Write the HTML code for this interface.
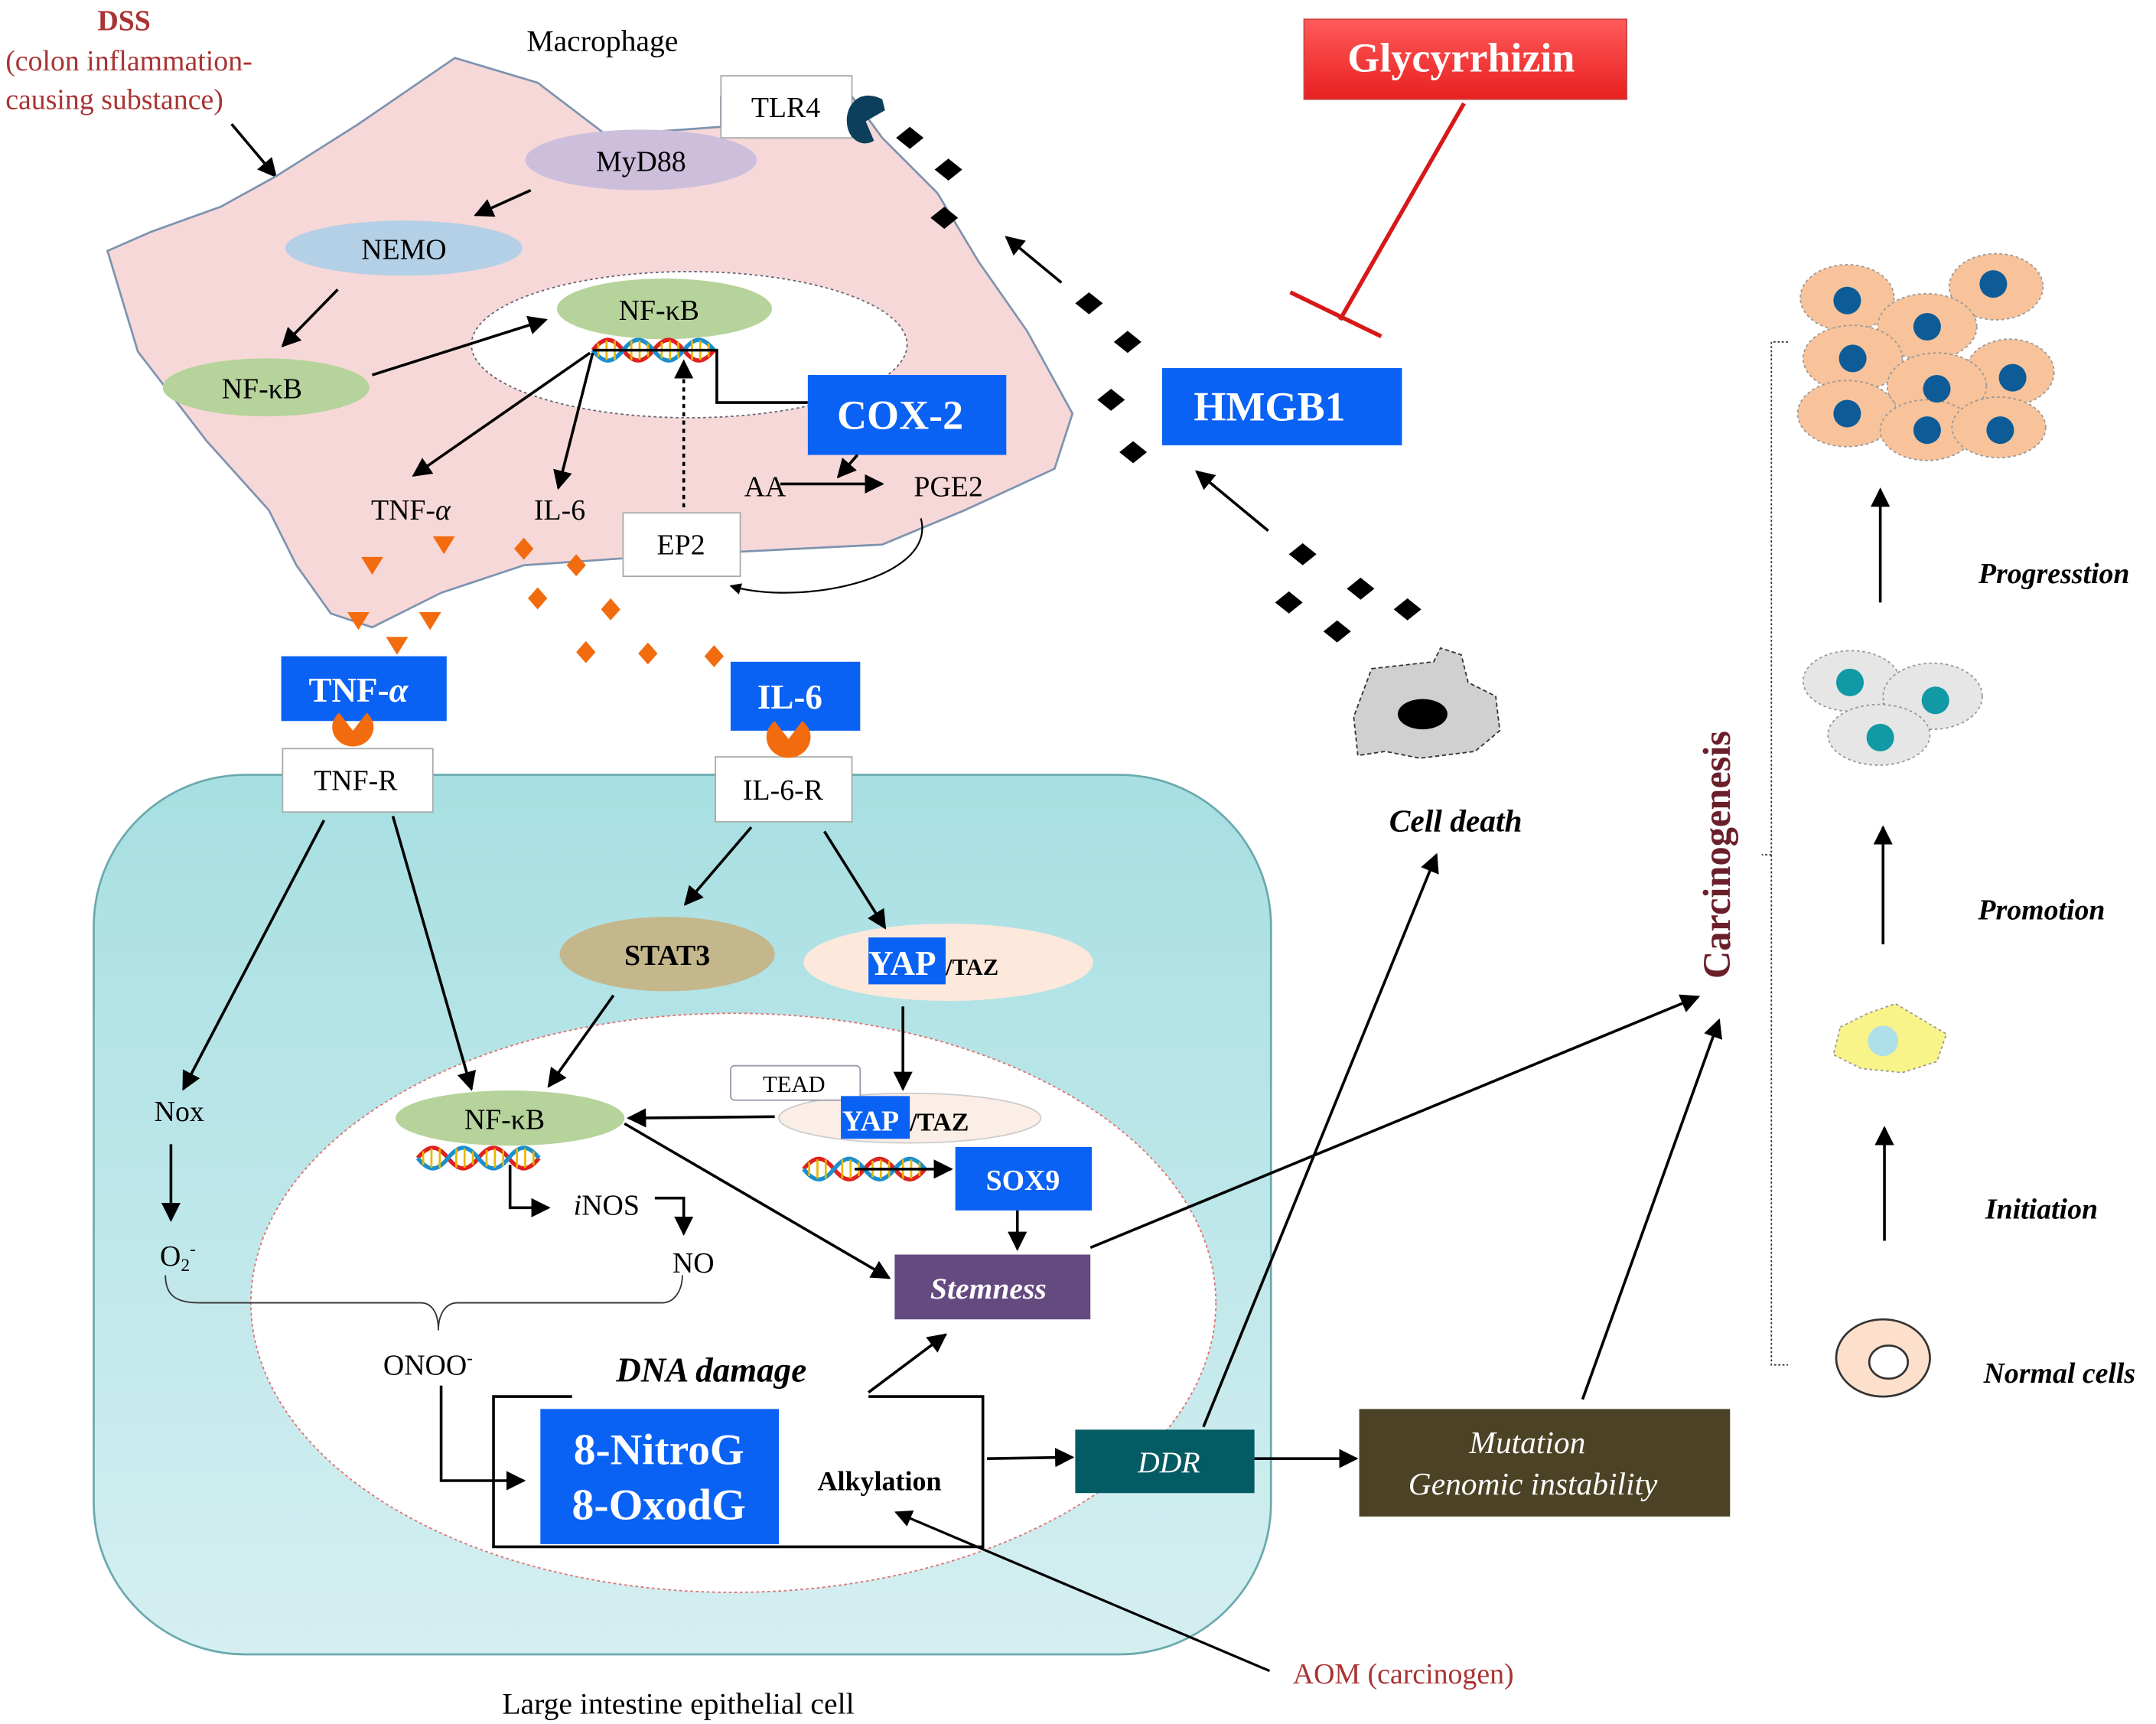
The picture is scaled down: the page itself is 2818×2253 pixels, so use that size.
<!DOCTYPE html>
<html><head><meta charset="utf-8"><style>html,body{margin:0;padding:0;background:#fff}svg{display:block}text{font-family:"Liberation Serif",serif}</style></head><body>
<svg width="2818" height="2253" viewBox="0 0 1564 1250.5" preserveAspectRatio="none" xmlns="http://www.w3.org/2000/svg">
<defs>
<marker id="a" viewBox="0 0 10 10" refX="9" refY="5" markerWidth="7" markerHeight="7" orient="auto-start-reverse"><path d="M0,0L10,5L0,10z" fill="#000"/></marker>
<linearGradient id="cg" x1="0" y1="0" x2="0" y2="1"><stop offset="0" stop-color="#a7dfe2"/><stop offset="1" stop-color="#d5eff1"/></linearGradient>
<linearGradient id="rg" x1="0" y1="0" x2="0" y2="1"><stop offset="0" stop-color="#ff5a5a"/><stop offset="1" stop-color="#e82020"/></linearGradient>
<g id="dna"><path d="M0,0 C8,-10 14,-10 22,0 S36,10 44,0 S58,-10 66,0 S80,10 88,0" fill="none" stroke="#e02020" stroke-width="3"/><path d="M0,0 C8,10 14,10 22,0 S36,-10 44,0 S58,10 66,0 S80,-10 88,0" fill="none" stroke="#1a8fd0" stroke-width="3"/><path d="M4,-5v10M10,-7v14M16,-7v14M28,-7v14M34,-7v14M40,-5v10M50,-6v12M56,-7v14M62,-6v12M72,-7v14M78,-7v14M84,-5v10" stroke="#e6b800" stroke-width="1.5"/></g>
</defs>
<text x="90" y="22" font-size="21" font-weight="bold" fill="#a33" text-anchor="middle">DSS</text>
<text x="4" y="51" font-size="21" fill="#a33">(colon   inflammation-</text>
<text x="4" y="79" font-size="21" fill="#a33">causing substance)</text>
<line x1="168" y1="90" x2="200" y2="128" stroke="#000" stroke-width="2" marker-end="url(#a)"/>
<text x="437" y="37" font-size="22" text-anchor="middle">Macrophage</text>
<path d="M78,182 L110,168 L160,150 L200,128 L260,90 L330,42 L390,60 L440,98 L523,92 L523,70 L618,70 L640,100 L680,140 L710,190 L745,240 L778,300 L765,340 L700,370 L640,395 L540,400 L452,405 L380,410 L320,430 L270,455 L240,445 L215,410 L195,370 L150,320 L100,255 Z" fill="#f7d8d8" stroke="#7d93b0" stroke-width="1.5"/>
<ellipse cx="500" cy="250" rx="158" ry="53" fill="#fff" stroke="#667" stroke-width="1" stroke-dasharray="2,2"/>
<rect x="523" y="55" width="95" height="45" fill="#fff" stroke="#aaa"/>
<text x="570" y="85" font-size="21" text-anchor="middle">TLR4</text>
<path d="M640,72 C620,62 610,82 616,96 C620,104 628,106 634,102 L628,88 L642,80 Z" fill="#0b3f5c"/>
<ellipse cx="465" cy="116" rx="84" ry="22" fill="#cdbfdc"/>
<text x="465" y="124" font-size="21" text-anchor="middle">MyD88</text>
<ellipse cx="293" cy="180" rx="86" ry="20" fill="#b3d0e6"/>
<text x="293" y="188" font-size="21" text-anchor="middle">NEMO</text>
<ellipse cx="193" cy="281" rx="75" ry="21" fill="#b6d39b"/>
<text x="190" y="289" font-size="21" text-anchor="middle">NF-κB</text>
<ellipse cx="482" cy="224" rx="78" ry="22" fill="#b6d39b"/>
<text x="478" y="232" font-size="21" text-anchor="middle">NF-κB</text>
<use href="#dna" x="430" y="254"/>
<path d="M430,254 H520 V292 H586" fill="none" stroke="#000" stroke-width="2"/>
<rect x="586" y="272" width="144" height="58" fill="#0a62f5"/>
<text x="653" y="311" font-size="30" font-weight="bold" fill="#fff" text-anchor="middle">COX-2</text>
<g stroke="#000" stroke-width="2" fill="none" marker-end="url(#a)">
<line x1="385" y1="138" x2="345" y2="156"/>
<line x1="245" y1="210" x2="205" y2="251"/>
<line x1="270" y1="272" x2="396" y2="232"/>
<line x1="428" y1="256" x2="300" y2="345"/>
<line x1="430" y1="256" x2="405" y2="354"/>
<line x1="622" y1="330" x2="608" y2="346"/>
<line x1="566" y1="351" x2="640" y2="351"/>
<line x1="496" y1="368" x2="496" y2="262" stroke-dasharray="3,3"/>
<path d="M668,376 C680,420 580,440 530,425" stroke-width="1.2"/>
</g>
<text x="298" y="377" font-size="21" text-anchor="middle">TNF-<tspan font-style="italic">α</tspan></text>
<text x="406" y="377" font-size="21" text-anchor="middle">IL-6</text>
<text x="555" y="360" font-size="21" text-anchor="middle">AA</text>
<text x="688" y="360" font-size="21" text-anchor="middle">PGE2</text>
<rect x="452" y="372" width="85" height="46" fill="#fff" stroke="#aaa"/>
<text x="494" y="402" font-size="21" text-anchor="middle">EP2</text>
<g fill="#f26b0f">
<path d="M262,404h16l-8,13z"/><path d="M314,389h16l-8,13z"/><path d="M252,444h16l-8,13z"/><path d="M304,444h16l-8,13z"/><path d="M280,462h16l-8,13z"/>
<path d="M380,390l7,8l-7,8l-7,-8z"/><path d="M418,402l7,8l-7,8l-7,-8z"/><path d="M390,426l7,8l-7,8l-7,-8z"/><path d="M443,434l7,8l-7,8l-7,-8z"/><path d="M425,465l7,8l-7,8l-7,-8z"/><path d="M470,466l7,8l-7,8l-7,-8z"/><path d="M518,468l7,8l-7,8l-7,-8z"/>
</g>
<rect x="68" y="562" width="854" height="638" rx="110" fill="url(#cg)" stroke="#6aa9ad" stroke-width="1.5"/>
<ellipse cx="532" cy="945" rx="350" ry="210" fill="#fff" stroke="#e07070" stroke-width="1" stroke-dasharray="2,2"/>
<rect x="204" y="476" width="120" height="47" fill="#0a62f5"/>
<text x="260" y="509" font-size="25" font-weight="bold" fill="#fff" text-anchor="middle">TNF-<tspan font-style="italic">α</tspan></text>
<rect x="530" y="480" width="94" height="50" fill="#0a62f5"/>
<text x="573" y="514" font-size="25" font-weight="bold" fill="#fff" text-anchor="middle">IL-6</text>
<rect x="205" y="543" width="109" height="46" fill="#fff" stroke="#aaa"/>
<text x="258" y="573" font-size="21" text-anchor="middle">TNF-R</text>
<rect x="519" y="549" width="99" height="47" fill="#fff" stroke="#aaa"/>
<text x="568" y="580" font-size="21" text-anchor="middle">IL-6-R</text>
<path d="M256,530 L246,517 A15,14 0 1 0 266,517 Z" fill="#f26b0f"/>
<path d="M572,536 L562,523 A16,15 0 1 0 582,523 Z" fill="#f26b0f"/>
<ellipse cx="484" cy="692" rx="78" ry="27" fill="#c4b78c"/>
<text x="484" y="700" font-size="21" font-weight="bold" text-anchor="middle">STAT3</text>
<ellipse cx="688" cy="698" rx="105" ry="28" fill="#fde8dc"/>
<rect x="630" y="680" width="56" height="34" fill="#0a62f5"/>
<text x="630" y="707" font-size="25" font-weight="bold" fill="#fff">YAP</text>
<text x="686" y="707" font-size="17" font-weight="bold">/TAZ</text>
<ellipse cx="370" cy="811" rx="83" ry="20" fill="#b6d39b"/>
<text x="366" y="819" font-size="21" text-anchor="middle">NF-κB</text>
<use href="#dna" x="303" y="840"/>
<ellipse cx="660" cy="811" rx="95" ry="18" fill="#fbeee6" stroke="#ccc"/>
<rect x="530" y="773" width="94" height="25" rx="3" fill="#fff" stroke="#99a"/>
<text x="576" y="792" font-size="17" text-anchor="middle">TEAD</text>
<rect x="610" y="795" width="50" height="31" fill="#0a62f5"/>
<text x="611" y="820" font-size="21" font-weight="bold" fill="#fff">YAP</text>
<text x="660" y="820" font-size="19" font-weight="bold">/TAZ</text>
<use href="#dna" x="583" y="848"/>
<rect x="693" y="832" width="99" height="46" fill="#0a62f5"/>
<text x="742" y="863" font-size="21" font-weight="bold" fill="#fff" text-anchor="middle">SOX9</text>
<text x="130" y="813" font-size="21" text-anchor="middle">Nox</text>
<text x="116" y="918" font-size="21">O<tspan font-size="13" dy="4">2</tspan><tspan font-size="13" dy="-12">-</tspan></text>
<text x="440" y="881" font-size="21" text-anchor="middle"><tspan font-style="italic">i</tspan>NOS</text>
<text x="503" y="923" font-size="21" text-anchor="middle">NO</text>
<text x="278" y="997" font-size="21">ONOO<tspan font-size="13" dy="-8">-</tspan></text>
<path d="M120,925 C120,940 128,945 145,945 H305 C315,945 318,955 318,965 C318,955 322,945 332,945 H480 C490,945 495,935 495,925" fill="none" stroke="#333" stroke-width="1"/>
<rect x="649" y="910" width="142" height="47" fill="#654a80"/>
<text x="717" y="942" font-size="22" font-style="italic" font-weight="bold" fill="#fff" text-anchor="middle">Stemness</text>
<text x="516" y="1002" font-size="25" font-style="italic" font-weight="bold" text-anchor="middle">DNA damage</text>
<path d="M415,1013 H358 V1122 H713 V1013 H630" fill="none" stroke="#000" stroke-width="2"/>
<rect x="392" y="1022" width="173" height="98" fill="#0a62f5"/>
<text x="478" y="1062" font-size="32" font-weight="bold" fill="#fff" text-anchor="middle">8-NitroG</text>
<text x="478" y="1102" font-size="32" font-weight="bold" fill="#fff" text-anchor="middle">8-OxodG</text>
<text x="638" y="1081" font-size="20" font-weight="bold" text-anchor="middle">Alkylation</text>
<rect x="780" y="1037" width="130" height="46" fill="#035c63"/>
<text x="848" y="1068" font-size="22" font-style="italic" fill="#fff" text-anchor="middle">DDR</text>
<rect x="986" y="1022" width="269" height="78" fill="#4c4225"/>
<text x="1108" y="1054" font-size="23" font-style="italic" fill="#fff" text-anchor="middle">Mutation</text>
<text x="1112" y="1084" font-size="23" font-style="italic" fill="#fff" text-anchor="middle">Genomic instability</text>
<text x="492" y="1243" font-size="22" text-anchor="middle">Large intestine epithelial cell</text>
<text x="1018" y="1221" font-size="21" fill="#a33" text-anchor="middle">AOM (carcinogen)</text>
<g stroke="#000" stroke-width="2" fill="none" marker-end="url(#a)">
<line x1="235" y1="595" x2="133" y2="790"/>
<line x1="285" y1="592" x2="342" y2="790"/>
<line x1="545" y1="600" x2="497" y2="656"/>
<line x1="598" y1="603" x2="642" y2="673"/>
<line x1="445" y1="722" x2="398" y2="788"/>
<line x1="655" y1="730" x2="655" y2="790"/>
<line x1="562" y1="810" x2="456" y2="811"/>
<line x1="453" y1="815" x2="645" y2="927"/>
<line x1="738" y1="878" x2="738" y2="906"/>
<line x1="124" y1="830" x2="124" y2="885"/>
<path d="M370,845 V876 H398"/>
<path d="M475,869 H496 V895"/>
<path d="M320,1005 V1074 H380"/>
<line x1="620" y1="848" x2="690" y2="848"/>
<line x1="630" y1="1010" x2="686" y2="968"/>
<line x1="716" y1="1058" x2="778" y2="1057"/>
<line x1="910" y1="1058" x2="984" y2="1058"/>
<line x1="921" y1="1212" x2="650" y2="1097" stroke-width="1.8"/>
<line x1="873" y1="1035" x2="1042" y2="620"/>
<line x1="791" y1="905" x2="1232" y2="723"/>
<line x1="1148" y1="1015" x2="1247" y2="740"/>
<line x1="770" y1="205" x2="730" y2="172"/>
<line x1="920" y1="385" x2="868" y2="342"/>
<line x1="1364" y1="437" x2="1364" y2="355"/>
<line x1="1366" y1="685" x2="1366" y2="600"/>
<line x1="1367" y1="900" x2="1367" y2="818"/>
</g>
<rect x="946" y="14" width="234" height="58" fill="url(#rg)" stroke="#c44"/>
<text x="1060" y="52" font-size="30" font-weight="bold" fill="#fff" text-anchor="middle">Glycyrrhizin</text>
<line x1="1062" y1="75" x2="972" y2="232" stroke="#d81818" stroke-width="3"/>
<line x1="936" y1="212" x2="1002" y2="244" stroke="#d81818" stroke-width="3"/>
<rect x="843" y="267" width="174" height="56" fill="#0a62f5"/>
<text x="921" y="305" font-size="30" font-weight="bold" fill="#fff" text-anchor="middle">HMGB1</text>
<g fill="#000">
<path d="M660,92l10,8l-10,8l-10,-8z"/><path d="M688,115l10,8l-10,8l-10,-8z"/><path d="M685,150l10,8l-10,8l-10,-8z"/><path d="M790,212l10,8l-10,8l-10,-8z"/><path d="M818,240l10,8l-10,8l-10,-8z"/><path d="M806,282l10,8l-10,8l-10,-8z"/><path d="M822,320l10,8l-10,8l-10,-8z"/><path d="M945,394l10,8l-10,8l-10,-8z"/><path d="M987,419l10,8l-10,8l-10,-8z"/><path d="M935,429l10,8l-10,8l-10,-8z"/><path d="M1021,434l10,8l-10,8l-10,-8z"/><path d="M970,450l10,8l-10,8l-10,-8z"/>
</g>
<path d="M995,485 L1040,480 L1045,470 L1060,475 L1065,495 L1085,505 L1088,530 L1070,545 L1030,550 L1005,545 L985,548 L982,520 Z" fill="#d0d0d0" stroke="#333" stroke-dasharray="3,2"/>
<ellipse cx="1032" cy="518" rx="18" ry="11" fill="#000"/>
<text x="1056" y="603" font-size="23" font-style="italic" font-weight="bold" text-anchor="middle">Cell death</text>
<text transform="translate(1255,620) rotate(-90)" font-size="28" fill="#6b1f2a" text-anchor="middle" font-weight="bold">Carcinogenesis</text>
<path d="M1297,248 H1285 V990 H1297 M1285,620 H1278" fill="none" stroke="#333" stroke-dasharray="1.5,1.5"/>
<ellipse cx="1366" cy="985" rx="34" ry="28" fill="#fde0cc" stroke="#333" stroke-width="1.5"/>
<ellipse cx="1370" cy="988" rx="14" ry="12" fill="#fff" stroke="#333" stroke-width="1.5"/>
<path d="M1335,745 L1355,735 L1375,728 L1395,740 L1412,750 L1405,770 L1380,778 L1350,775 L1330,765 Z" fill="#f8f48a" stroke="#999" stroke-dasharray="2,2"/>
<circle cx="1366" cy="755" r="11" fill="#aee0ea"/>
<g fill="#e6e6e6" stroke="#999" stroke-dasharray="2,2">
<ellipse cx="1343" cy="494" rx="35" ry="22"/><ellipse cx="1402" cy="505" rx="36" ry="24"/><ellipse cx="1363" cy="533" rx="37" ry="22"/>
</g>
<g fill="#119aa5"><circle cx="1342" cy="495" r="10"/><circle cx="1404" cy="508" r="10"/><circle cx="1364" cy="535" r="10"/></g>
<g fill="#f8c39a" stroke="#999" stroke-dasharray="2,2">
<ellipse cx="1340" cy="216" rx="34" ry="24"/><ellipse cx="1448" cy="208" rx="34" ry="24"/><ellipse cx="1398" cy="237" rx="36" ry="24"/><ellipse cx="1344" cy="260" rx="36" ry="24"/><ellipse cx="1458" cy="270" rx="32" ry="24"/><ellipse cx="1405" cy="280" rx="36" ry="24"/><ellipse cx="1340" cy="300" rx="36" ry="24"/><ellipse cx="1398" cy="312" rx="34" ry="22"/><ellipse cx="1450" cy="310" rx="34" ry="22"/>
</g>
<g fill="#0d5c98"><circle cx="1340" cy="218" r="10"/><circle cx="1446" cy="206" r="10"/><circle cx="1398" cy="237" r="10"/><circle cx="1344" cy="260" r="10"/><circle cx="1460" cy="274" r="10"/><circle cx="1405" cy="282" r="10"/><circle cx="1340" cy="300" r="10"/><circle cx="1398" cy="312" r="10"/><circle cx="1451" cy="312" r="10"/></g>
<g font-size="21" font-style="italic" font-weight="bold" text-anchor="middle">
<text x="1490" y="423">Progresstion</text>
<text x="1481" y="667">Promotion</text>
<text x="1481" y="884">Initiation</text>
<text x="1494" y="1003">Normal cells</text>
</g>
</svg>
</body></html>
